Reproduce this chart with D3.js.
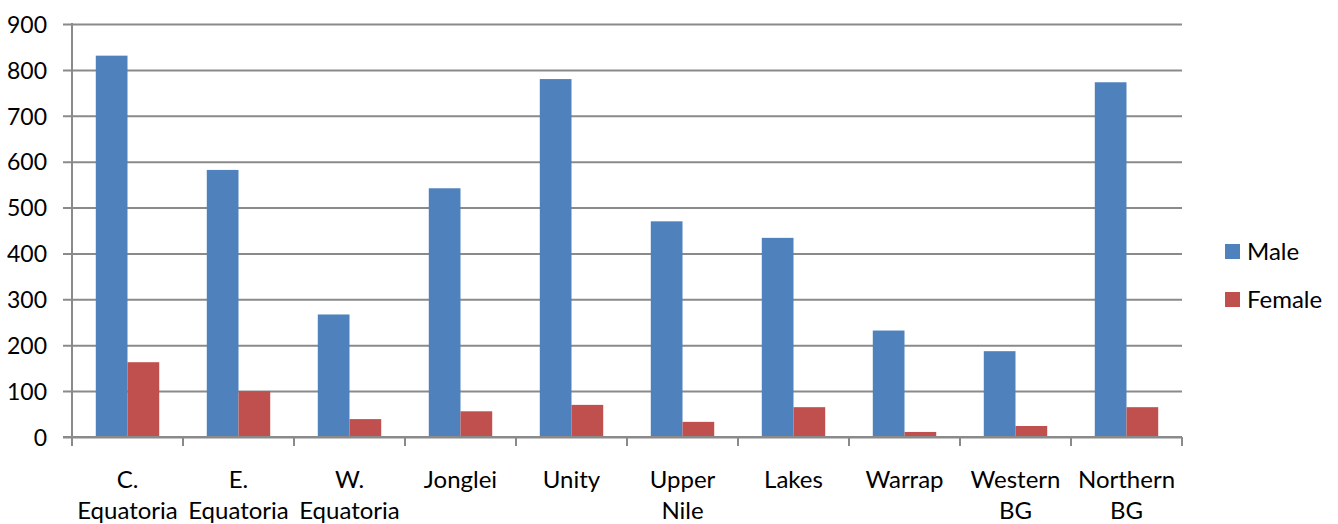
<!DOCTYPE html>
<html>
<head>
<meta charset="utf-8">
<script src="https://cdn.jsdelivr.net/npm/d3@7/dist/d3.min.js"></script>
<style>
  html, body { margin: 0; padding: 0; background: #fff; }
  svg { display: block; }
  text { font-family: Lato, "Open Sans", sans-serif; fill: #000; }
</style>
</head>
<body>
<svg id="chart" width="1338" height="524"></svg>
<script>
const categories = ["C. Equatoria", "E. Equatoria", "W. Equatoria", "Jonglei", "Unity",
                    "Upper Nile", "Lakes", "Warrap", "Western BG", "Northern BG"];
const seriesNames = ["Male", "Female"];
const maleValues = [831, 582, 267, 542, 780, 470, 434, 232, 187, 773];
const femaleValues = [163, 100, 39, 56, 70, 33, 65, 11, 24, 65];
const yTicks = [0, 100, 200, 300, 400, 500, 600, 700, 800, 900];
const colors = ["#4F81BD", "#C0504D"];

const W = 1338, H = 524;
const plot = { left: 72, right: 1182, top: 24, bottom: 437 };
const yFontSize = 23;
const fontSize = 24;
const gridColor = "#8a8a8a";

const rows = categories.map((c, i) => ({ cat: c, values: [maleValues[i], femaleValues[i]] }));

const svg = d3.select("#chart");

const x0 = d3.scaleBand().domain(categories).range([plot.left, plot.right]).padding(0);
const x1 = d3.scaleBand().domain(seriesNames).range([0, x0.bandwidth()]).paddingInner(0).paddingOuter(0.75);
const y = d3.scaleLinear().domain([0, 900]).range([plot.bottom, plot.top]);
const color = d3.scaleOrdinal().domain(seriesNames).range(colors);

// Y axis with gridlines
const yAxis = d3.axisLeft(y).tickValues(yTicks).tickSizeOuter(0).tickSizeInner(0).tickPadding(0);
const gy = svg.append("g").attr("transform", `translate(${plot.left},0)`).call(yAxis);
gy.select(".domain").attr("stroke", gridColor).attr("stroke-width", 2)
  .attr("d", `M0,${plot.top - 1}V${plot.bottom}`);
gy.selectAll(".tick line")
  .attr("x1", -9).attr("x2", plot.right - plot.left)
  .attr("stroke", gridColor).attr("stroke-width", 2);
gy.selectAll(".tick text")
  .attr("x", -25).attr("dy", "0.36em")
  .style("font-size", yFontSize + "px").style("font-family", "Lato, 'Open Sans', sans-serif")
  .attr("fill", "#000");

// Bars
const groups = svg.append("g").selectAll("g").data(rows).join("g")
  .attr("transform", d => `translate(${x0(d.cat)},0)`);
groups.selectAll("rect")
  .data(d => d.values.map((v, i) => ({ key: seriesNames[i], value: v })))
  .join("rect")
  .attr("x", d => x1(d.key))
  .attr("width", x1.bandwidth())
  .attr("y", d => y(d.value))
  .attr("height", d => y(0) - y(d.value))
  .attr("fill", d => color(d.key));

// X axis
const xAxis = d3.axisBottom(x0).tickSize(0).tickPadding(0).tickFormat("");
const gx = svg.append("g").attr("transform", `translate(0,${plot.bottom})`).call(xAxis);
gx.select(".domain").attr("stroke", gridColor).attr("stroke-width", 2)
  .attr("d", `M${plot.left - 9},0H${plot.right}`);
gx.selectAll(".tick").remove();
const boundaries = categories.map(c => x0(c)).concat([x0(categories[categories.length - 1]) + x0.bandwidth()]);
gx.selectAll(".bound").data(boundaries).join("line")
  .attr("class", "bound")
  .attr("x1", d => d).attr("x2", d => d)
  .attr("y1", 0).attr("y2", 9)
  .attr("stroke", gridColor).attr("stroke-width", 2);

const labels = svg.append("g").selectAll("text").data(categories).join("text")
  .attr("x", d => x0(d) + x0.bandwidth() / 2)
  .attr("y", 488)
  .attr("text-anchor", "middle")
  .style("font-size", fontSize + "px");
labels.each(function(d) {
  const parts = d.split(" ");
  const lines = parts.length > 1 ? [parts[0], parts.slice(1).join(" ")] : [d];
  d3.select(this).selectAll("tspan").data(lines).join("tspan")
    .attr("x", x0(d) + x0.bandwidth() / 2)
    .attr("dy", (l, i) => i === 0 ? 0 : 31)
    .text(l => l);
});

// Legend
const legend = svg.append("g").selectAll("g").data(seriesNames).join("g")
  .attr("transform", (d, i) => `translate(1225,${244 + i * 48})`);
legend.append("rect").attr("width", 15).attr("height", 15).attr("fill", d => color(d));
legend.append("text").attr("x", 22).attr("y", 7.5).attr("dy", "0.36em")
  .style("font-size", fontSize + "px").text(d => d);
</script>
</body>
</html>
